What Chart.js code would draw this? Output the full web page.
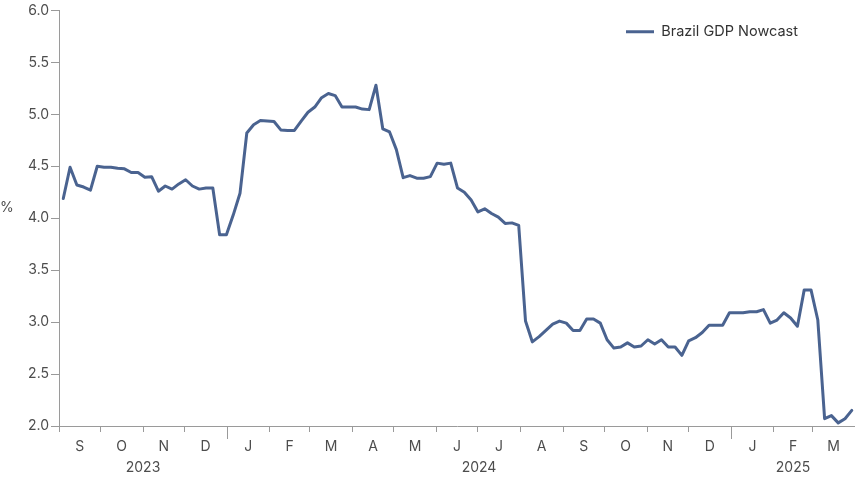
<!DOCTYPE html>
<html>
<head>
<meta charset="utf-8">
<style>
  html, body { margin: 0; padding: 0; background: #fff; overflow: hidden; }
  #wrap { width: 855px; height: 477px; position: relative; }
</style>
</head>
<body>
<div id="wrap"><canvas id="nowcastChart"></canvas></div>

<script src="https://cdn.jsdelivr.net/npm/chart.js"></script>
<script>
// series: Brazil GDP nowcast, one reading roughly every 5 days
const seriesLabel = 'Brazil GDP Nowcast';
const axisStart = '2023-09-01';
const axisEnd = '2025-04-01';
const firstDay = 3.1;      // days after axisStart of the first reading
const stepDays = 4.936;    // spacing between readings
const nowcast = [
  4.19, 4.49, 4.32, 4.30, 4.27, 4.50, 4.49, 4.49, 4.48, 4.475,
  4.44, 4.44, 4.395, 4.40, 4.26, 4.31, 4.28, 4.33, 4.37, 4.31,
  4.28, 4.29, 4.29, 3.84, 3.84, 4.03, 4.24, 4.82, 4.90, 4.94,
  4.935, 4.93, 4.85, 4.845, 4.845, 4.935, 5.02, 5.07, 5.16, 5.20,
  5.18, 5.07, 5.07, 5.07, 5.05, 5.045, 5.28, 4.86, 4.83, 4.66,
  4.39, 4.41, 4.385, 4.385, 4.40, 4.53, 4.52, 4.53, 4.29, 4.25,
  4.175, 4.06, 4.09, 4.045, 4.01, 3.95, 3.955, 3.93, 3.01, 2.81,
  2.86, 2.92, 2.98, 3.01, 2.99, 2.92, 2.92, 3.03, 3.03, 2.99,
  2.83, 2.75, 2.76, 2.80, 2.76, 2.77, 2.83, 2.79, 2.83, 2.76,
  2.76, 2.68, 2.82, 2.85, 2.90, 2.97, 2.97, 2.97, 3.09, 3.09,
  3.09, 3.10, 3.10, 3.12, 2.99, 3.02, 3.09, 3.04, 2.96, 3.31,
  3.31, 3.02, 2.07, 2.10, 2.03, 2.07, 2.15
];
const monthLetters = ['J', 'F', 'M', 'A', 'M', 'J', 'J', 'A', 'S', 'O', 'N', 'D'];
const yTicks = [2.0, 2.5, 3.0, 3.5, 4.0, 4.5, 5.0, 5.5, 6.0];
const yUnit = '%';

const DAY = 86400000;
const t0 = Date.parse(axisStart);
const tEnd = Date.parse(axisEnd);
const totalDays = (tEnd - t0) / DAY;

// month boundaries and month centres along the x axis (in days)
const monthTicks = [];
const yearBounds = [];
const yearTicks = [];
{
  let d = new Date(t0);
  let yrStart = 0;
  while (d.getTime() < tEnd) {
    const start = (d.getTime() - t0) / DAY;
    const next = new Date(Date.UTC(d.getUTCFullYear(), d.getUTCMonth() + 1, 1));
    const end = (next.getTime() - t0) / DAY;
    monthTicks.push({ value: start, label: '', edge: true });
    monthTicks.push({ value: (start + end) / 2, label: monthLetters[d.getUTCMonth()], edge: false });
    if (next.getUTCMonth() === 0 || next.getTime() >= tEnd) {
      yearTicks.push({ value: (yrStart + end) / 2, label: String(d.getUTCFullYear()) });
      if (next.getUTCMonth() === 0 && next.getTime() < tEnd) yearBounds.push(end);
      yrStart = end;
    }
    d = next;
  }
  monthTicks.push({ value: totalDays, label: '', edge: true });
}

const points = nowcast.map((v, i) => ({ x: firstDay + i * stepDays, y: v }));

const axisGrey = '#9a9a9a';
const labelGrey = '#4d4d4d';
Chart.defaults.font.family = 'Inter, "Noto Sans", sans-serif';

// longer tick marks where the year changes
const yearTickMarks = {
  id: 'yearTickMarks',
  afterDraw(chart) {
    const sx = chart.scales.x;
    const c = chart.ctx;
    c.save();
    c.strokeStyle = axisGrey;
    c.lineWidth = 1;
    yearBounds.forEach(day => {
      const px = Math.round(sx.getPixelForValue(day)) + 0.5;
      c.beginPath();
      c.moveTo(px, chart.chartArea.bottom);
      c.lineTo(px, chart.chartArea.bottom + 13);
      c.stroke();
    });
    c.restore();
  }
};

// place the legend in the upper right, inside the plot
const legendPlace = {
  id: 'legendPlace',
  afterLayout(chart) {
    const lg = chart.legend;
    const a = chart.chartArea;
    const w = lg.width;
    const h = lg.height;
    lg.left = a.right - 243;
    lg.right = lg.left + w;
    lg.top = a.top;
    lg.bottom = lg.top + h;
  }
};

const noSidePad = s => { s.paddingLeft = 0; s.paddingRight = 0; };

new Chart(document.getElementById('nowcastChart'), {
  type: 'line',
  data: {
    datasets: [{
      label: seriesLabel,
      data: points,
      borderColor: '#4a6390',
      backgroundColor: '#4a6390',
      borderWidth: 3,
      borderJoinStyle: 'round',
      borderCapStyle: 'round',
      pointRadius: 0,
      pointHoverRadius: 0,
      tension: 0,
      pointStyle: 'line'
    }]
  },
  options: {
    responsive: true,
    maintainAspectRatio: false,
    animation: false,
    layout: { padding: 0 },
    plugins: {
      tooltip: { enabled: false },
      legend: {
        position: 'chartArea',
        align: 'start',
        labels: {
          usePointStyle: true,
          pointStyleWidth: 28,
          padding: 14,
          color: '#333',
          font: { size: 14.5 }
        }
      }
    },
    scales: {
      x: {
        type: 'linear',
        min: 0,
        max: totalDays,
        afterBuildTicks: s => { s.ticks = monthTicks.map(t => ({ value: t.value })); },
        afterFit: s => { s.height = 30; noSidePad(s); },
        ticks: {
          autoSkip: false,
          maxRotation: 0,
          padding: 6,
          color: labelGrey,
          font: { size: 14 },
          callback: (v, i) => monthTicks[i] ? monthTicks[i].label : ''
        },
        grid: {
          drawOnChartArea: false,
          tickLength: 6,
          tickColor: ctx => (monthTicks[ctx.index] && monthTicks[ctx.index].edge) ? axisGrey : 'rgba(0,0,0,0)'
        },
        border: { color: axisGrey }
      },
      x2: {
        type: 'linear',
        position: 'bottom',
        min: 0,
        max: totalDays,
        afterBuildTicks: s => { s.ticks = yearTicks.map(t => ({ value: t.value })); },
        afterFit: s => { s.height = 21; noSidePad(s); },
        ticks: {
          autoSkip: false,
          maxRotation: 0,
          padding: 3,
          color: labelGrey,
          font: { size: 14 },
          callback: (v, i) => yearTicks[i] ? yearTicks[i].label : ''
        },
        grid: { display: false, drawTicks: false },
        border: { display: false }
      },
      y: {
        min: 2,
        max: 6,
        afterBuildTicks: s => { s.ticks = yTicks.map(v => ({ value: v })); },
        afterFit: s => { s.width = 45; },
        ticks: {
          padding: 2,
          color: labelGrey,
          font: { size: 14 },
          callback: v => v.toFixed(1)
        },
        grid: { drawOnChartArea: false, tickLength: 8, tickColor: axisGrey },
        border: { color: axisGrey }
      },
      yUnit: {
        position: 'left',
        weight: 1,
        min: 2,
        max: 6,
        afterBuildTicks: s => { s.ticks = [{ value: 4.1 }]; },
        afterFit: s => { s.width = 14; },
        ticks: {
          crossAlign: 'far',
          padding: 0,
          color: labelGrey,
          font: { size: 14 },
          callback: () => yUnit
        },
        grid: { display: false, drawTicks: false },
        border: { display: false }
      }
    }
  },
  plugins: [yearTickMarks, legendPlace]
});
</script>
</body>
</html>
